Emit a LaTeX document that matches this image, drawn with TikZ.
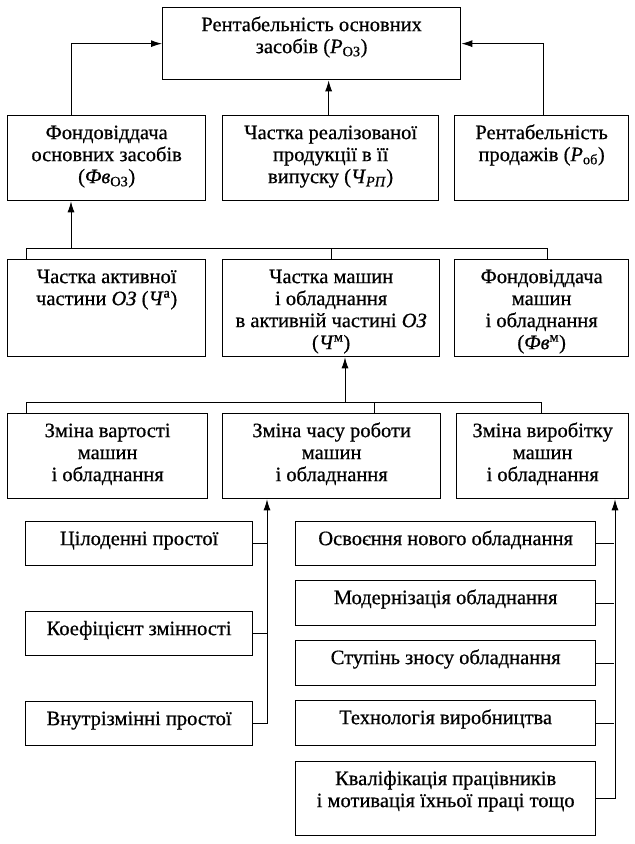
\documentclass[tikz,border=0pt]{standalone}
\usepackage{fontspec}
\setmainfont[FakeBold=0.6]{Liberation Serif}
\usetikzlibrary{arrows.meta}
\newcommand{\boxtext}[3]{\parbox[t][#2][t]{#1}{\centering\rule{0pt}{23.5pt}#3}}
\tikzset{
  every node/.style={font=\fontsize{20.5}{22}\selectfont},
  cell/.style={draw, line width=1.3pt, inner sep=0pt, anchor=north west},
  link/.style={draw, line width=1pt},
  arrow/.style={-{Latex[length=11pt,width=7pt]}, draw, line width=1pt},
}

\begin{document}
\begin{tikzpicture}[x=1pt,y=-1pt]
  \useasboundingbox (0,0) rectangle (635,844);
  % Top level
  \node[cell] (rent) at (162,7) {\boxtext{298pt}{72pt}{Рентабельність основних\\засобів (\textit{P}\textsubscript{ОЗ})}};
  % Second level
  \node[cell] (fond) at (7,115) {\boxtext{198pt}{85pt}{Фондовіддача\\основних засобів\\(\textit{Фв}\textsubscript{ОЗ})}};
  \node[cell] (chast) at (222,115) {\boxtext{216pt}{85pt}{Частка реалізованої\\продукції в її\\випуску (\textit{Ч}\textsubscript{\textit{РП}})}};
  \node[cell] (prod) at (454,115) {\boxtext{174pt}{85pt}{Рентабельність\\продажів (\textit{P}\textsubscript{об})}};
  \draw[arrow] ([xshift=64pt]fond.north west) |- (rent.west);
  \draw[arrow] ([xshift=-2pt]chast.north) -- ([xshift=-2pt]chast.north |- rent.south);
  \draw[arrow] ([xshift=89pt]prod.north west) |- (rent.east);
  % Third level
  \node[cell] (akt) at (7,259) {\boxtext{198pt}{97pt}{Частка активної\\частини \textit{ОЗ} (\textit{Ч}\textsuperscript{а})}};
  \node[cell] (mash) at (222,259) {\boxtext{217pt}{97pt}{Частка машин\\і обладнання\\в активній частині \textit{ОЗ}\\(\textit{Ч}\textsuperscript{м})}};
  \node[cell] (fvm) at (454,259) {\boxtext{174pt}{97pt}{Фондовіддача\\машин\\і обладнання\\(\textit{Фв}\textsuperscript{м})}};
  \draw[link] ([xshift=19pt]akt.north west) -- ++(0,-11) -| ([xshift=93pt]fvm.north west);
  \draw[link] (mash.north) -- ++(0,-11);
  \draw[arrow] ([xshift=64pt,yshift=11pt]akt.north west) -- ([xshift=64pt]fond.south west);
  % Fourth level
  \node[cell] (zvart) at (7,413) {\boxtext{200pt}{85pt}{Зміна вартості\\машин\\і обладнання}};
  \node[cell] (zchas) at (222,413) {\boxtext{218pt}{85pt}{Зміна часу роботи\\машин\\і обладнання}};
  \node[cell] (zvyr) at (456,413) {\boxtext{172pt}{85pt}{Зміна виробітку\\машин\\і обладнання}};
  \draw[link] ([xshift=19pt]zvart.north west) -- ++(0,-11) -| ([xshift=85pt]zvyr.north west);
  \draw[link] ([xshift=152pt]zchas.north west) -- ++(0,-11);
  \draw[arrow] ([xshift=123pt,yshift=11pt]zchas.north west) -- ([xshift=123pt]mash.south west);
  % Working time factors
  \node[cell] (cil) at (25,521) {\boxtext{227pt}{44pt}{Цілоденні простої}};
  \node[cell] (koef) at (25,611) {\boxtext{227pt}{44pt}{Коефіцієнт змінності}};
  \node[cell] (vnut) at (25,701) {\boxtext{227pt}{44pt}{Внутрізмінні простої}};
  \draw[arrow] (vnut.east) -| ([xshift=45pt]zchas.south west);
  \draw[link] (cil.east) -- ++(15,0);
  \draw[link] (koef.east) -- ++(15,0);
  % Output factors
  \node[cell] (osv) at (295,521) {\boxtext{300pt}{44pt}{Освоєння нового обладнання}};
  \node[cell] (modern) at (295,580) {\boxtext{300pt}{45pt}{Модернізація обладнання}};
  \node[cell] (znos) at (295,640) {\boxtext{300pt}{45pt}{Ступінь зносу обладнання}};
  \node[cell] (tekh) at (295,700) {\boxtext{300pt}{45pt}{Технологія виробництва}};
  \node[cell] (kval) at (295,761) {\boxtext{300pt}{74pt}{Кваліфікація працівників\\і мотивація їхньої праці тощо}};
  \draw[arrow] (kval.east) -| ([xshift=159pt]zvyr.south west);
  \draw[link] (osv.east) -- ++(18,0);
  \draw[link] (modern.east) -- ++(18,0);
  \draw[link] (znos.east) -- ++(18,0);
  \draw[link] (tekh.east) -- ++(18,0);
\end{tikzpicture}
\end{document}
